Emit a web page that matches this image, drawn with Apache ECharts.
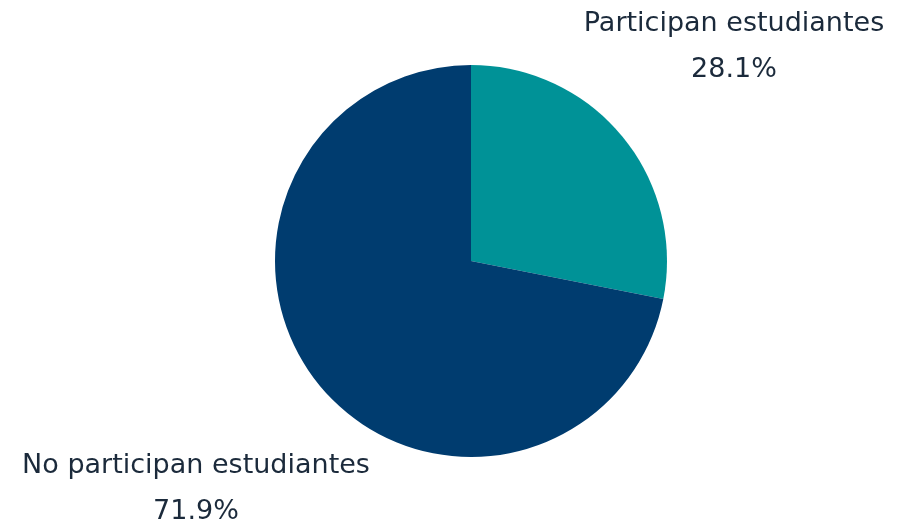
<!DOCTYPE html>
<html>
<head>
<meta charset="utf-8">
<script src="https://cdn.jsdelivr.net/npm/echarts@6/dist/echarts.min.js"></script>
<style>
  html, body { margin: 0; padding: 0; background: #fff; }
  #chart { width: 900px; height: 524px; }
</style>
</head>
<body>
<div id="chart"></div>
<script>
const categories = ['Participan estudiantes', 'No participan estudiantes']
const shares = [28.1, 71.9]
const sliceColors = ['#009297', '#003C6F']

// label anchor points (block centre) for each slice
const labelSpots = [[734, 47], [196, 489]]

const chart = echarts.init(document.getElementById('chart'), null, { renderer: 'canvas' })

chart.setOption({
  backgroundColor: '#fff',
  animation: false,
  series: [
    {
      type: 'pie',
      center: [471, 261],
      radius: 196,
      startAngle: 90,
      clockwise: true,
      data: categories.map((name, i) => ({
        name,
        value: shares[i],
        itemStyle: { color: sliceColors[i] },
      })),
      label: {
        show: true,
        position: 'outside',
        formatter: (p) => `${p.name}\n${p.value.toFixed(1)}%`,
        color: '#1b2a3b',
        fontFamily: 'DejaVu Sans',
        fontSize: 27,
        lineHeight: 46,
        align: 'center',
        overflow: 'none',
        width: 400,
      },
      labelLine: { show: false },
      labelLayout: (params) => {
        const [x, y] = labelSpots[params.dataIndex]
        return { x, y, align: 'center', verticalAlign: 'middle' }
      },
      emphasis: { disabled: true },
    },
  ],
})
</script>
</body>
</html>
